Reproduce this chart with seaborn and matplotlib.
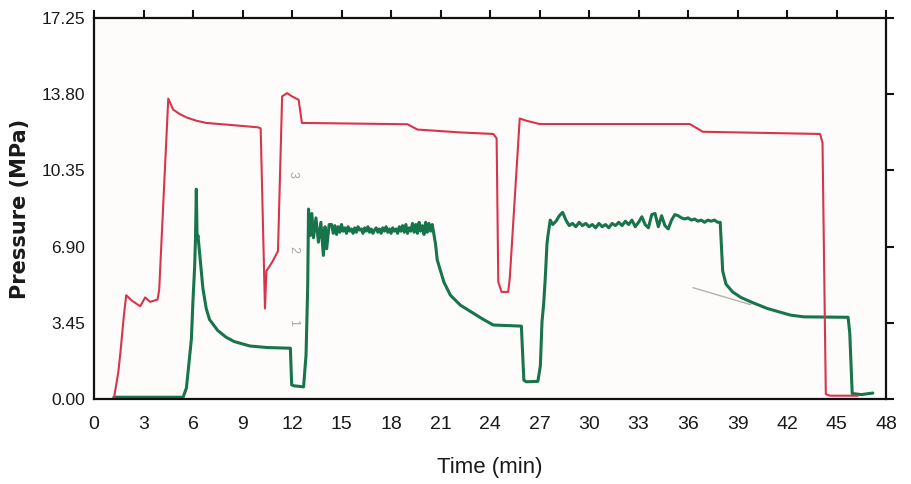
import matplotlib
matplotlib.use("Agg")
import matplotlib.pyplot as plt
import seaborn as sns
import pandas as pd

# red trace (time in min, pressure in MPa)
red_t = [1.2, 1.47, 1.6, 1.8, 1.95, 2.3, 2.8, 3.1, 3.4, 3.85, 3.95, 4.5, 4.8, 5.2,
         5.6, 6.2, 6.8, 8.4, 9.95, 10.1, 10.36, 10.45, 10.8, 11.15, 11.4, 11.7,
         12.0, 12.4, 12.6, 19.0, 19.6, 22.2, 24.2, 24.4, 24.5, 24.7, 25.1, 25.2,
         25.8, 26.2, 27.0, 36.1, 36.9, 44.0, 44.15, 44.35, 44.6, 46.3]
red_p = [0.0, 1.2, 2.1, 3.7, 4.7, 4.45, 4.2, 4.6, 4.4, 4.5, 4.95, 13.6, 13.1, 12.9,
         12.75, 12.6, 12.5, 12.4, 12.3, 12.25, 4.1, 5.8, 6.2, 6.7, 13.7, 13.85,
         13.7, 13.55, 12.5, 12.44, 12.2, 12.07, 12.0, 11.8, 5.3, 4.85, 4.85, 5.5,
         12.7, 12.6, 12.45, 12.45, 12.1, 12.0, 11.6, 0.22, 0.15, 0.15]

# green trace
green_t = [
    # first pulse
    1.2, 5.4, 5.6, 5.9, 6.0, 6.1, 6.15, 6.2, 6.25, 6.3, 6.4, 6.6, 6.8, 7.0,
    7.5, 8.0, 8.5, 9.45, 10.5, 11.9, 11.98, 12.1, 12.7, 12.85, 12.95,
    # first noisy plateau
    13.0, 13.1, 13.2, 13.3, 13.45, 13.6, 13.75, 13.9, 14.0, 14.1, 14.25,
    14.4, 14.5, 14.6, 14.7, 14.8, 14.9, 15.0, 15.1, 15.2, 15.3,
    15.4, 15.5, 15.6, 15.7, 15.8, 15.9, 16.0, 16.1, 16.2, 16.3,
    16.4, 16.5, 16.6, 16.7, 16.8, 16.9, 17.0, 17.1, 17.2, 17.3,
    17.4, 17.5, 17.6, 17.7, 17.8, 17.9, 18.0, 18.1, 18.2, 18.3,
    18.4, 18.5, 18.6, 18.7, 18.8, 18.9, 19.0, 19.1, 19.2, 19.3,
    19.4, 19.5, 19.6, 19.7, 19.8, 19.9, 20.0, 20.1, 20.2, 20.3,
    20.4, 20.5,
    # decay and dip
    20.7, 20.8, 21.2, 21.6, 22.2, 23.6, 24.2, 25.9, 26.05, 26.2, 26.9,
    27.05, 27.15, 27.25, 27.35, 27.45, 27.5, 27.65, 27.8,
    # second noisy plateau
    28.0, 28.2, 28.4, 28.6, 28.8, 29.0, 29.2, 29.4, 29.6, 29.8,
    30.0, 30.2, 30.4, 30.6, 30.8, 31.0, 31.2, 31.4, 31.6, 31.8,
    32.0, 32.2, 32.4, 32.6, 32.8, 33.0, 33.2, 33.4, 33.6, 33.8,
    34.0, 34.2, 34.4, 34.6, 34.8, 35.0, 35.2, 35.4, 35.6, 35.8,
    36.0, 36.2, 36.4, 36.6, 36.8, 37.0, 37.2, 37.4, 37.6, 37.8,
    # last decay
    37.95, 38.05, 38.1, 38.3, 38.7, 39.2, 39.8, 40.8, 42.2,
    43.0, 45.7, 45.8, 45.95, 46.5, 47.2]
green_p = [
    0.08, 0.08, 0.5, 2.7, 4.5, 6.0, 7.3, 9.5, 7.2, 7.4, 6.6, 5.0, 4.1, 3.6,
    3.1, 2.8, 2.6, 2.4, 2.33, 2.3, 0.64, 0.6, 0.55, 2.0, 5.1,
    8.6, 7.4, 8.4, 7.3, 8.2, 7.1, 8.0, 6.5, 7.8, 6.8, 7.9,
    7.9, 7.5, 7.85, 7.45, 7.8, 7.55, 7.9, 7.6, 7.75, 7.5,
    7.8, 7.6, 7.7, 7.5, 7.75, 7.55, 7.8, 7.65, 7.7, 7.5,
    7.75, 7.6, 7.8, 7.55, 7.7, 7.5, 7.65, 7.75, 7.55, 7.7,
    7.5, 7.75, 7.6, 7.8, 7.55, 7.7, 7.5, 7.75, 7.6, 7.7,
    7.5, 7.8, 7.6, 7.85, 7.55, 7.9, 7.5, 7.75, 7.6, 7.95,
    7.55, 7.9, 7.5, 8.0, 7.6, 7.85, 7.45, 8.0, 7.55, 7.95,
    7.6, 7.9,
    7.0, 6.3, 5.3, 4.7, 4.25, 3.6, 3.35, 3.3, 0.85, 0.78, 0.8,
    1.5, 3.5, 4.3, 5.5, 7.0, 7.35, 8.1, 7.9,
    8.05, 8.3, 8.45, 8.1, 7.85, 7.95, 7.8, 8.0, 7.85, 7.95,
    7.8, 7.9, 7.75, 7.95, 7.8, 7.9, 7.75, 7.95, 7.85, 8.0,
    7.85, 8.05, 7.9, 8.1, 7.8, 8.0, 8.25, 7.9, 7.75, 8.35,
    8.4, 7.8, 8.3, 7.85, 7.7, 8.1, 8.35, 8.3, 8.2, 8.15,
    8.2, 8.1, 8.15, 8.05, 8.1, 8.0, 8.1, 8.05, 8.1, 8.0,
    8.0, 6.5, 5.8, 5.2, 4.85, 4.6, 4.4, 4.1, 3.8,
    3.72, 3.7, 3.0, 0.25, 0.2, 0.27]

# faint pencil stroke on the paper
pencil_t = [36.3, 39.8]
pencil_p = [5.04, 4.27]

x_ticks = list(range(0, 49, 3))
y_ticks = [0.00, 3.45, 6.90, 10.35, 13.80, 17.25]
y_labels = ["0.00", "3.45", "6.90", "10.35", "13.80", "17.25"]

sns.set_style("white")
plt.rcParams["font.family"] = ["Liberation Sans", "DejaVu Sans"]

fig = plt.figure(figsize=(9.11, 4.84), dpi=100)
ax = fig.add_axes([0.1032, 0.1756, 0.8694, 0.7872])
ax.set_facecolor("#fefcfa")

red = pd.DataFrame({"t": red_t, "p": red_p})
green = pd.DataFrame({"t": green_t, "p": green_p})
pencil = pd.DataFrame({"t": pencil_t, "p": pencil_p})

sns.lineplot(data=pencil, x="t", y="p", sort=False, estimator=None,
             color="#b5b0ad", linewidth=1.0, ax=ax)
sns.lineplot(data=green, x="t", y="p", sort=False, estimator=None,
             color="#18744b", linewidth=2.2, ax=ax)
sns.lineplot(data=red, x="t", y="p", sort=False, estimator=None,
             color="#d8344c", linewidth=1.5, ax=ax)

# pencil-written numbers next to the trace
for label, yy in [("3", 10.15), ("2", 6.75), ("1", 3.45)]:
    ax.text(12.05, yy, label, rotation=-90, color="#a8a4a2", fontsize=9,
            ha="center", va="center")

ax.set_xlim(0, 48)
ax.set_ylim(0, 17.25)
ax.set_xticks(x_ticks)
ax.set_xticklabels([str(v) for v in x_ticks], fontsize=14, color="#1a1a1a")
ax.set_yticks(y_ticks)
ax.set_yticklabels(y_labels, fontsize=12.5, color="#1a1a1a")
ax.tick_params(axis="both", direction="out", length=5.5, width=1.5, color="#111111",
               top=True, right=True, labeltop=False, labelright=False)
ax.tick_params(axis="x", pad=7)
ax.tick_params(axis="y", pad=1)
for s in ax.spines.values():
    s.set_linewidth(1.6)
    s.set_color("#111111")

ax.set_xlabel("Time (min)", fontsize=16, labelpad=17, color="#1a1a1a")
ax.set_ylabel("Pressure (MPa)", fontsize=15, fontweight="bold", labelpad=8,
              family="DejaVu Sans", color="#1a1a1a")

fig.savefig("out.png", dpi=100, facecolor="white")
